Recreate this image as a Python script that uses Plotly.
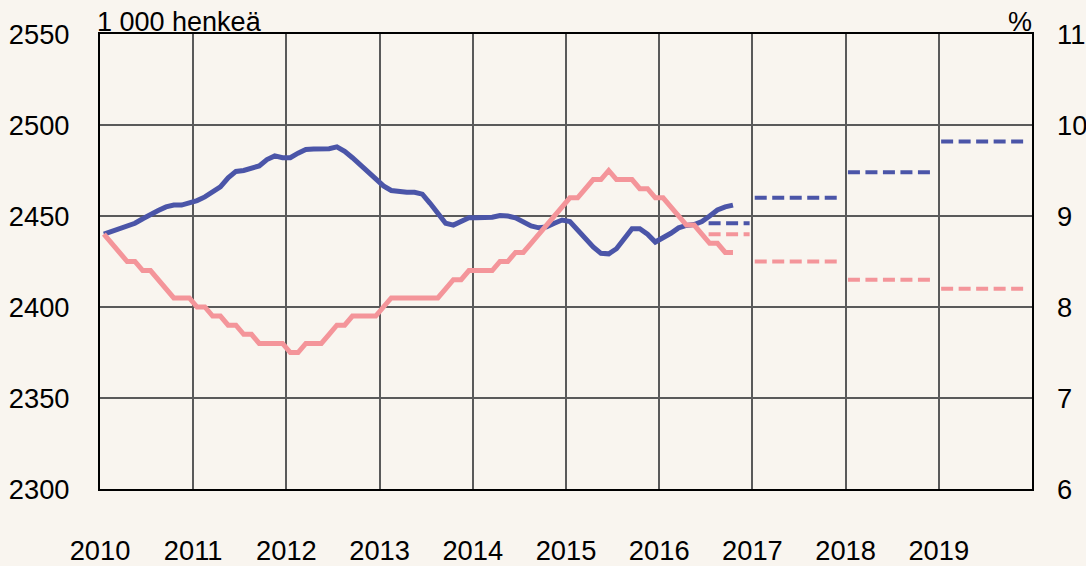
import numpy as np
import plotly.graph_objects as go

# monthly trend, Jan 2010 - Oct 2016
alku_vuosi = 2010
tyolliset = [2440, 2441.5, 2443, 2444.5, 2446, 2448.5, 2451, 2453, 2455, 2456,
             2456, 2457, 2458.5, 2460.5, 2463, 2466, 2471, 2474.5, 2475, 2476,
             2477.5, 2481, 2483, 2482, 2482, 2484.5, 2486.5, 2486.8, 2487, 2487,
             2488, 2485.5, 2482, 2478, 2474, 2470, 2466.5, 2464, 2463.3, 2463,
             2463, 2462, 2457, 2451, 2446, 2445, 2447, 2449, 2449, 2449,
             2449.3, 2450.3, 2450, 2449, 2446.5, 2444.5, 2443.5, 2444, 2446, 2447.8,
             2447, 2442, 2437.5, 2433, 2429.5, 2429.2, 2432, 2437.5, 2443, 2443,
             2440, 2435.7, 2437.8, 2440.5, 2443.5, 2444.8, 2445.3, 2447, 2450, 2453.3,
             2455, 2456]
tyottomyysaste = [8.8, 8.7, 8.6, 8.5, 8.5, 8.4, 8.4, 8.3, 8.2, 8.1,
                  8.1, 8.1, 8.0, 8.0, 7.9, 7.9, 7.8, 7.8, 7.7, 7.7,
                  7.6, 7.6, 7.6, 7.6, 7.5, 7.5, 7.6, 7.6, 7.6, 7.7,
                  7.8, 7.8, 7.9, 7.9, 7.9, 7.9, 8.0, 8.1, 8.1, 8.1,
                  8.1, 8.1, 8.1, 8.1, 8.2, 8.3, 8.3, 8.4, 8.4, 8.4,
                  8.4, 8.5, 8.5, 8.6, 8.6, 8.7, 8.8, 8.9, 9.0, 9.1,
                  9.2, 9.2, 9.3, 9.4, 9.4, 9.5, 9.4, 9.4, 9.4, 9.3,
                  9.3, 9.2, 9.2, 9.1, 9.0, 8.9, 8.9, 8.8, 8.7, 8.7,
                  8.6, 8.6]

# annual forecasts
ennuste_vuodet = [2016, 2017, 2018, 2019]
ennuste_tyolliset = [2446, 2460, 2474, 2491]
ennuste_tyottomyys = [8.8, 8.5, 8.3, 8.2]

vuodet = list(range(2010, 2020))

SININEN = '#4b55a8'
PUNAINEN = '#f4959a'
TAUSTA = '#f9f5ef'
FONTTI = 'Arial, Liberation Sans, sans-serif'

kk = alku_vuosi + (np.arange(len(tyolliset)) + 0.5) / 12

fig = go.Figure()
fig.add_trace(go.Scatter(x=kk, y=tyolliset, mode='lines',
                         line=dict(color=SININEN, width=5), yaxis='y'))
fig.add_trace(go.Scatter(x=kk, y=tyottomyysaste, mode='lines',
                         line=dict(color=PUNAINEN, width=5), yaxis='y2'))

for v, t, u in zip(ennuste_vuodet, ennuste_tyolliset, ennuste_tyottomyys):
    # the current-year forecast is drawn only over the second half of the year
    x0, x1 = (v + 0.53, v + 0.97) if v == 2016 else (v + 0.025, v + 0.905)
    fig.add_trace(go.Scatter(x=[x0, x1], y=[t, t], mode='lines',
                             line=dict(color=SININEN, width=4, dash='12px,5.5px'), yaxis='y'))
    fig.add_trace(go.Scatter(x=[x0, x1], y=[u, u], mode='lines',
                             line=dict(color=PUNAINEN, width=4, dash='12px,5.5px'), yaxis='y2'))

fig.update_layout(
    width=1086, height=566, autosize=False,
    margin=dict(l=100, r=54, t=34, b=77),
    paper_bgcolor=TAUSTA, plot_bgcolor=TAUSTA,
    showlegend=False,
    font=dict(family=FONTTI, size=27.3, color='black'),
    xaxis=dict(range=[2010, 2020], tickvals=vuodet, ticktext=[str(v) for v in vuodet],
               showgrid=True, gridcolor='#5a5a5a', gridwidth=1.5,
               showline=True, linecolor='black', linewidth=2, mirror=True,
               ticks='', ticklabelstandoff=36, zeroline=False, automargin=False),
    yaxis=dict(range=[2300, 2550], dtick=50, tick0=2300,
               showgrid=True, gridcolor='#5a5a5a', gridwidth=1.5,
               showline=True, linecolor='black', linewidth=2, mirror=True,
               ticks='', ticklabelstandoff=23, zeroline=False, automargin=False),
    yaxis2=dict(range=[6, 11], dtick=1, tick0=6, overlaying='y', side='right',
                showgrid=False, showline=False, ticks='', ticklabelstandoff=24,
                zeroline=False, automargin=False),
    annotations=[
        dict(text='1 000 henkeä', x=0, y=1, xref='paper', yref='paper',
             xanchor='left', yanchor='bottom', showarrow=False,
             font=dict(size=27), xshift=-5, yshift=-5),
        dict(text='%', x=1, y=1, xref='paper', yref='paper',
             xanchor='right', yanchor='bottom', showarrow=False,
             font=dict(size=27), xshift=2, yshift=-5),
    ],
)

fig.write_html("out.html", config={'displayModeBar': False},
               post_script="document.body.style.margin='0';document.body.style.overflow='hidden';")
